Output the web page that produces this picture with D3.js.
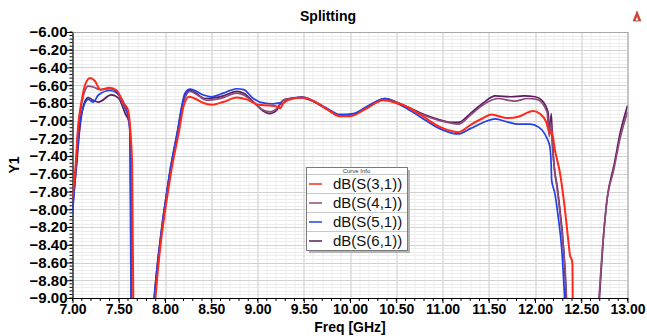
<!DOCTYPE html>
<html>
<head>
<meta charset="utf-8">
<script src="https://cdn.jsdelivr.net/npm/d3@7/dist/d3.min.js"></script>
<style>
  html, body { margin: 0; padding: 0; background: #fff; }
  svg { display: block; font-family: "Liberation Sans", Arial, sans-serif; }
</style>
</head>
<body>
<svg id="chart" width="647" height="336"></svg>
<script>
// series: frequency [GHz] and dB values
let s31Freq = [7.00, 7.03, 7.06, 7.10, 7.135, 7.19, 7.24, 7.30, 7.40, 7.48, 7.55, 7.60, 7.63, 7.645, 7.66, 7.78, 7.89, 8.06, 8.155, 8.20, 8.26, 8.32, 8.415, 8.505, 8.63, 8.775, 8.88, 9.01, 9.12, 9.21, 9.245, 9.28, 9.39, 9.495, 9.60, 9.75, 9.89, 10.00, 10.18, 10.36, 10.50, 10.61, 10.757, 10.97, 11.11, 11.17, 11.30, 11.44, 11.53, 11.69, 11.82, 11.98, 12.05, 12.12, 12.16, 12.18, 12.215, 12.27, 12.32, 12.36, 12.38, 12.395, 12.405, 12.41];
let s31Db = [-7.86, -7.56, -7.07, -6.77, -6.60, -6.52, -6.55, -6.65, -6.63, -6.66, -6.80, -6.88, -7.18, -7.50, -9.30, -11.0, -9.10, -7.62, -7.10, -6.84, -6.73, -6.75, -6.80, -6.82, -6.79, -6.74, -6.76, -6.82, -6.83, -6.84, -6.86, -6.80, -6.75, -6.74, -6.775, -6.87, -6.95, -6.95, -6.86, -6.77, -6.80, -6.84, -6.93, -7.07, -7.12, -7.13, -7.05, -6.97, -6.93, -6.97, -6.955, -6.89, -6.92, -7.01, -7.14, -7.12, -7.33, -7.59, -7.97, -8.35, -8.53, -8.56, -8.62, -9.30];

let s41Freq = [7.00, 7.03, 7.06, 7.10, 7.135, 7.17, 7.225, 7.30, 7.405, 7.48, 7.56, 7.60, 7.625, 7.64, 7.76, 7.88, 8.055, 8.145, 8.19, 8.225, 8.27, 8.32, 8.45, 8.63, 8.775, 8.85, 8.96, 9.06, 9.14, 9.21, 9.25, 9.30, 9.45, 9.60, 9.75, 9.89, 10.00, 10.18, 10.38, 10.50, 10.61, 10.757, 10.97, 11.11, 11.17, 11.30, 11.44, 11.60, 11.78, 11.92, 12.02, 12.13, 12.155, 12.17, 12.19, 12.215, 12.25, 12.29, 12.33, 12.35, 12.55, 12.685, 12.74, 12.775, 12.85, 12.92, 13.00];
let s41Db = [-7.92, -7.60, -7.12, -6.80, -6.66, -6.61, -6.62, -6.65, -6.64, -6.68, -6.85, -6.95, -7.20, -9.30, -11.0, -9.10, -7.60, -7.10, -6.84, -6.72, -6.67, -6.69, -6.77, -6.74, -6.69, -6.71, -6.80, -6.88, -6.90, -6.86, -6.80, -6.76, -6.74, -6.78, -6.87, -6.94, -6.94, -6.86, -6.755, -6.79, -6.84, -6.92, -7.00, -7.03, -7.04, -6.94, -6.82, -6.75, -6.78, -6.75, -6.76, -6.90, -7.18, -7.02, -7.32, -7.58, -7.85, -8.25, -8.75, -9.20, -11.0, -9.10, -8.30, -7.92, -7.56, -7.20, -6.90];

let s51Freq = [7.00, 7.045, 7.08, 7.12, 7.17, 7.225, 7.28, 7.405, 7.48, 7.57, 7.60, 7.62, 7.635, 7.75, 7.875, 8.05, 8.137, 8.18, 8.216, 8.27, 8.32, 8.415, 8.505, 8.63, 8.775, 8.85, 8.955, 9.06, 9.17, 9.24, 9.27, 9.315, 9.48, 9.60, 9.75, 9.89, 10.035, 10.215, 10.38, 10.50, 10.61, 10.757, 10.97, 11.10, 11.17, 11.30, 11.44, 11.57, 11.69, 11.82, 11.95, 12.035, 12.13, 12.16, 12.175, 12.18, 12.215, 12.25, 12.29, 12.32, 12.33];
let s51Db = [-8.05, -7.44, -7.03, -6.84, -6.76, -6.79, -6.71, -6.66, -6.69, -6.84, -6.94, -7.10, -9.30, -11.0, -9.10, -7.59, -7.105, -6.84, -6.69, -6.645, -6.66, -6.71, -6.73, -6.69, -6.64, -6.65, -6.75, -6.80, -6.81, -6.80, -6.81, -6.77, -6.73, -6.775, -6.86, -6.93, -6.92, -6.82, -6.75, -6.80, -6.86, -6.955, -7.09, -7.14, -7.15, -7.09, -7.02, -6.98, -7.01, -7.04, -7.04, -7.07, -7.20, -7.29, -7.50, -7.67, -7.82, -8.08, -8.46, -9.00, -9.20];

let s61Freq = [7.00, 7.04, 7.08, 7.12, 7.17, 7.225, 7.28, 7.42, 7.50, 7.57, 7.615, 7.63, 7.64, 7.76, 7.875, 8.05, 8.14, 8.185, 8.22, 8.27, 8.32, 8.43, 8.63, 8.775, 8.85, 8.96, 9.06, 9.135, 9.21, 9.25, 9.30, 9.47, 9.60, 9.75, 9.89, 10.00, 10.18, 10.38, 10.50, 10.61, 10.757, 10.97, 11.11, 11.17, 11.30, 11.44, 11.57, 11.74, 11.88, 12.00, 12.09, 12.14, 12.16, 12.175, 12.19, 12.21, 12.235, 12.27, 12.31, 12.335, 12.34, 12.55, 12.69, 12.745, 12.78, 12.855, 12.925, 13.00];
let s61Db = [-7.98, -7.55, -7.08, -6.82, -6.74, -6.77, -6.79, -6.71, -6.75, -6.92, -7.03, -7.30, -9.30, -11.0, -9.10, -7.60, -7.10, -6.84, -6.70, -6.66, -6.68, -6.75, -6.72, -6.67, -6.69, -6.79, -6.89, -6.92, -6.88, -6.80, -6.76, -6.74, -6.78, -6.87, -6.94, -6.94, -6.85, -6.75, -6.79, -6.84, -6.91, -6.99, -7.02, -7.02, -6.92, -6.80, -6.72, -6.73, -6.72, -6.73, -6.79, -6.90, -7.15, -6.92, -7.25, -7.55, -7.71, -8.01, -8.46, -9.00, -9.20, -11.0, -9.10, -8.25, -7.88, -7.50, -7.12, -6.83];

let seriesNames = ['dB(S(3,1))', 'dB(S(4,1))', 'dB(S(5,1))', 'dB(S(6,1))'];
let seriesColors = ['#ff2a1a', '#8e4a78', '#2040e8', '#5a1d5e'];

let xTicks = [7.0, 7.5, 8.0, 8.5, 9.0, 9.5, 10.0, 10.5, 11.0, 11.5, 12.0, 12.5, 13.0];
let yTicks = [-6.0, -6.2, -6.4, -6.6, -6.8, -7.0, -7.2, -7.4, -7.6, -7.8, -8.0, -8.2, -8.4, -8.6, -8.8, -9.0];

let svg = d3.select('#chart'),
  rawWidth = +svg.attr('width'),
  rawHeight = +svg.attr('height'),
  margin = { top: 32, right: 19.5, bottom: 38, left: 72.5 },
  width = rawWidth - margin.left - margin.right,
  height = rawHeight - margin.top - margin.bottom;

let xScale = d3.scaleLinear().domain([7, 13]).range([0, width]);
let yScale = d3.scaleLinear().domain([-9, -6]).range([height, 0]);

let frame = svg.append('g')
  .attr('transform', `translate(${margin.left},${margin.top})`);

// grid: minor then major
let minorX = d3.range(70, 131).map(d => d / 10);
let minorY = d3.range(0, 76).map(d => -6 - d * 0.04);

frame.append('g').selectAll('line')
  .data(minorX)
  .enter().append('line')
    .attr('x1', d => Math.round(xScale(d)) + 0.5)
    .attr('x2', d => Math.round(xScale(d)) + 0.5)
    .attr('y1', 0).attr('y2', height)
    .attr('stroke', '#ededed');

frame.append('g').selectAll('line')
  .data(minorY)
  .enter().append('line')
    .attr('y1', d => Math.round(yScale(d)) + 0.5)
    .attr('y2', d => Math.round(yScale(d)) + 0.5)
    .attr('x1', 0).attr('x2', width)
    .attr('stroke', '#ededed');

frame.append('g').selectAll('line')
  .data(xTicks)
  .enter().append('line')
    .attr('x1', d => Math.round(xScale(d)) + 0.5)
    .attr('x2', d => Math.round(xScale(d)) + 0.5)
    .attr('y1', 0).attr('y2', height)
    .attr('stroke', '#d2d2d2');

frame.append('g').selectAll('line')
  .data(yTicks)
  .enter().append('line')
    .attr('y1', d => Math.round(yScale(d)) + 0.5)
    .attr('y2', d => Math.round(yScale(d)) + 0.5)
    .attr('x1', 0).attr('x2', width)
    .attr('stroke', '#d2d2d2');

// frame border
frame.append('rect')
  .attr('x', 0.5).attr('y', 0.5)
  .attr('width', width).attr('height', height)
  .attr('fill', 'none')
  .attr('stroke', '#a8a8a8');

// axes
let xAxis = frame.append('g')
  .attr('transform', `translate(0,${height})`)
  .call(d3.axisBottom(xScale).tickValues(xTicks).tickFormat(d3.format('.2f')).tickSize(5).tickPadding(1).tickSizeOuter(0));
xAxis.append('g').selectAll('line')
  .data(minorX)
  .enter().append('line')
    .attr('x1', d => xScale(d)).attr('x2', d => xScale(d))
    .attr('y1', 0).attr('y2', 3)
    .attr('stroke', '#000');

let yAxis = frame.append('g')
  .call(d3.axisLeft(yScale).tickValues(yTicks).tickFormat(d3.format('.2f')).tickSize(6).tickSizeOuter(0));
yAxis.append('g').selectAll('line')
  .data(minorY)
  .enter().append('line')
    .attr('y1', d => yScale(d)).attr('y2', d => yScale(d))
    .attr('x1', 0).attr('x2', -3)
    .attr('stroke', '#000');

xAxis.selectAll('text')
  .attr('dy', '0.7em')
  .style('font-size', '14px')
  .style('font-weight', 'bold')
  .attr('font-family', null);
yAxis.selectAll('text')
  .attr('x', -5)
  .style('font-size', '15px')
  .style('font-weight', 'bold')
  .attr('font-family', null);
xAxis.select('.domain').attr('stroke', '#000');
yAxis.select('.domain').attr('stroke', '#000');

// curves
let seriesData = [
  d3.zip(s31Freq, s31Db),
  d3.zip(s41Freq, s41Db),
  d3.zip(s51Freq, s51Db),
  d3.zip(s61Freq, s61Db)
];

svg.append('defs').append('clipPath')
  .attr('id', 'plot-clip')
  .append('rect')
    .attr('x', 0).attr('y', 0)
    .attr('width', width).attr('height', height);

let line = d3.line()
  .x(d => xScale(d[0]))
  .y(d => yScale(d[1]))
  .curve(d3.curveMonotoneX);

// draw order: red on top like the original
let drawOrder = [3, 1, 2, 0];
frame.append('g')
  .attr('clip-path', 'url(#plot-clip)')
  .selectAll('path')
  .data(drawOrder)
  .enter().append('path')
    .attr('d', i => line(seriesData[i]))
    .attr('fill', 'none')
    .attr('stroke', i => seriesColors[i])
    .attr('stroke-width', i => i === 0 ? 2 : 1.7)
    .attr('stroke-linejoin', 'round');

// titles
svg.append('text')
  .attr('x', 328).attr('y', 21)
  .attr('text-anchor', 'middle')
  .style('font-size', '14px')
  .style('font-weight', 'bold')
  .text('Splitting');

svg.append('text')
  .attr('x', margin.left + width / 2).attr('y', 332)
  .attr('text-anchor', 'middle')
  .style('font-size', '14px')
  .style('font-weight', 'bold')
  .text('Freq [GHz]');

svg.append('text')
  .attr('transform', `translate(19,${margin.top + height / 2}) rotate(-90)`)
  .attr('text-anchor', 'middle')
  .style('font-size', '14px')
  .style('font-weight', 'bold')
  .text('Y1');

// small logo mark top right
svg.append('path')
  .attr('d', 'M633,21 L637,11 L641,21 Z M635,21 L637,16 L639,21 Z')
  .attr('fill', '#e04030')
  .attr('fill-rule', 'evenodd')
  .attr('stroke', '#a03020')
  .attr('stroke-width', 0.5);

// legend
let legend = svg.append('g').attr('transform', 'translate(306,167)');
let legendW = 101, headH = 7, rowH = 19;
let legendH = headH + rowH * seriesNames.length;

legend.append('rect')
  .attr('x', 3).attr('y', 3)
  .attr('width', legendW).attr('height', legendH)
  .attr('fill', '#b4b4b4');
legend.append('rect')
  .attr('x', 0.5).attr('y', 0.5)
  .attr('width', legendW).attr('height', legendH)
  .attr('fill', '#fff')
  .attr('stroke', '#7a7a7a');
legend.append('text')
  .attr('x', legendW / 2).attr('y', 6)
  .attr('text-anchor', 'middle')
  .style('font-size', '6px')
  .attr('fill', '#333')
  .text('Curve Info');

let rows = legend.selectAll('.row')
  .data(seriesNames)
  .enter().append('g')
    .attr('class', 'row')
    .attr('transform', (d, i) => `translate(0,${headH + i * rowH})`);

rows.append('line')
  .attr('x1', 1).attr('x2', legendW)
  .attr('y1', 0.5).attr('y2', 0.5)
  .attr('stroke', '#c8c8c8');
rows.append('line')
  .attr('x1', 3).attr('x2', 16)
  .attr('y1', rowH / 2 + 0.5).attr('y2', rowH / 2 + 0.5)
  .attr('stroke', (d, i) => seriesColors[i])
  .attr('stroke-width', 1.5);
rows.append('text')
  .attr('x', 27).attr('y', rowH / 2 + 5.5)
  .style('font-size', '15px')
  .attr('fill', '#111')
  .text(d => d);
</script>
</body>
</html>
